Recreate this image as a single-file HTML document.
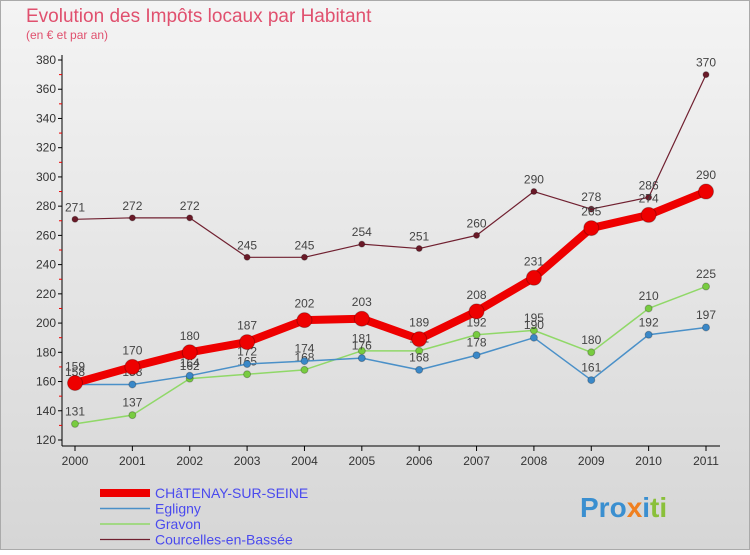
<!DOCTYPE html>
<html><head><meta charset="utf-8"><style>
body{margin:0;width:750px;height:550px;overflow:hidden;font-family:"Liberation Sans",sans-serif}
</style></head><body>
<svg width="750" height="550" xmlns="http://www.w3.org/2000/svg" font-family="Liberation Sans, sans-serif">
<defs><linearGradient id="bg" x1="0" y1="0" x2="0" y2="1"><stop offset="0" stop-color="#f4f4f4"/><stop offset="1" stop-color="#d6d6d6"/></linearGradient></defs>
<rect x="0.5" y="0.5" width="749" height="549" fill="url(#bg)" stroke="#aaa"/>
<text x="26" y="22" font-size="19" fill="#e0506e">Evolution des Impôts locaux par Habitant</text>
<text x="26" y="39" font-size="12" fill="#e0506e">(en € et par an)</text>
<g id="axes"></g>
<g id="series"></g>
<g id="legend"></g>
<g font-size="28" font-weight="bold">
<text x="580" y="517"><tspan fill="#3a8fd0">Pro</tspan><tspan fill="#f08020">x</tspan><tspan fill="#3a8fd0">i</tspan><tspan fill="#8ac03a">ti</tspan></text>
</g>
</svg>
<script>
const years=["2000","2001","2002","2003","2004","2005","2006","2007","2008","2009","2010","2011"];
const yTicks=[120,140,160,180,200,220,240,260,280,300,320,340,360,380];
const chatenay=[159,170,180,187,202,203,189,208,231,265,274,290];
const egligny=[158,158,164,172,174,176,168,178,190,161,192,197];
const gravon=[131,137,162,165,168,181,181,192,195,180,210,225];
const courcelles=[271,272,272,245,245,254,251,260,290,278,286,370];
const seriesNames=["CHâTENAY-SUR-SEINE","Egligny","Gravon","Courcelles-en-Bassée"];
const NS="http://www.w3.org/2000/svg";
const X0=75,X1=706,Y0=440,Y1=60,VMIN=120,VMAX=380;
function xs(i){return X0+(X1-X0)*i/(years.length-1);}
function ys(v){return Y0-(v-VMIN)*(Y0-Y1)/(VMAX-VMIN);}
function mk(tag,attrs,parent){const e=document.createElementNS(NS,tag);for(const k in attrs)e.setAttribute(k,attrs[k]);parent.appendChild(e);return e;}
const ax=document.getElementById('axes');
let a=mk('line',{x1:62,y1:55,x2:62,y2:446,stroke:'#000'},ax);


a=mk('line',{x1:62,y1:446,x2:720,y2:446,stroke:'#000'},ax);


yTicks.forEach((t,i)=>{const y=ys(t);
 mk('line',{x1:58,y1:y,x2:62,y2:y,stroke:'#000'},ax);
 if(i<yTicks.length-1) mk('line',{x1:59,y1:y-(Y0-Y1)/26,x2:62,y2:y-(Y0-Y1)/26,stroke:'#e00'},ax);
 const tx=mk('text',{x:56,y:y+4,'font-size':12,'text-anchor':'end',fill:'#333'},ax);tx.textContent=t;
 
 });
years.forEach((yr,i)=>{const x=xs(i);
 mk('line',{x1:x,y1:446,x2:x,y2:451,stroke:'#000'},ax);
 const tx=mk('text',{x:x,y:465,'font-size':12,'text-anchor':'middle',fill:'#333'},ax);tx.textContent=yr;
 
 });
const sg=document.getElementById('series');
const defs=[[courcelles,'#702030',1.2,3,'series-courcelles'],[gravon,'#90d868',1.5,3.5,'series-gravon'],[egligny,'#4a90c8',1.5,3.5,'series-egligny'],[chatenay,'#ee0000',8,7.5,'series-chatenay']];
const dotFill={'#702030':'#6a1a28','#90d868':'#78cc40','#4a90c8':'#3a88c8','#ee0000':'#ee0000'};
defs.forEach(([d,c,w,r,n])=>{
 const g=mk('g',{},sg);
 
 
 mk('polyline',{points:d.map((v,i)=>xs(i)+','+ys(v)).join(' '),fill:'none',stroke:c,'stroke-width':w,'stroke-linejoin':'round'},g);
 d.forEach((v,i)=>{const p=mk('circle',{cx:xs(i),cy:ys(v),r:r,fill:dotFill[c],stroke:'rgba(0,0,0,0.25)'},g);
  
  
  const t=mk('text',{x:xs(i),y:ys(v)-(r+5),'font-size':12,'text-anchor':'middle',fill:'#444'},g);t.textContent=v;
  
  });
});
const lg=document.getElementById('legend');
const lc=[['#ee0000',8],['#4a90c8',1.5],['#90d868',1.5],['#702030',1.2]];
seriesNames.forEach((s,i)=>{const y=493+i*15.5;
 const g=mk('g',{},lg);
 
 
 mk('line',{x1:100,y1:y,x2:150,y2:y,stroke:lc[i][0],'stroke-width':lc[i][1]},g);
 const t=mk('text',{x:155,y:y+5,'font-size':14,fill:'#4a4aee'},g);t.textContent=s;});
</script>
</body></html>
